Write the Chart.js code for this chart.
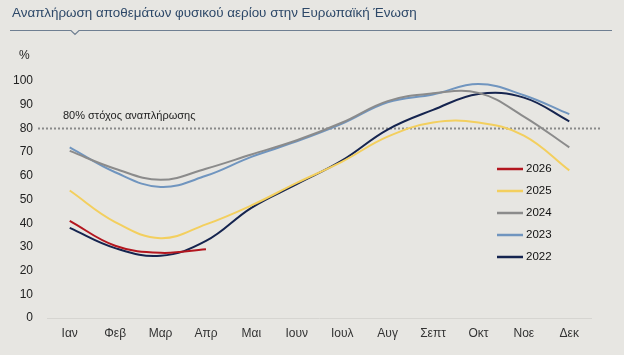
<!DOCTYPE html>
<html><head><meta charset="utf-8">
<script src="https://cdn.jsdelivr.net/npm/chart.js@4"></script>
<style>
html,body{margin:0;padding:0;background:#e7e6e2;}
#wrap{position:relative;width:624px;height:355px;}
</style></head>
<body><div id="wrap"><canvas id="c" width="624" height="355"></canvas></div>
<script>
const months = ['Ιαν','Φεβ','Μαρ','Απρ','Μαι','Ιουν','Ιουλ','Αυγ','Σεπτ','Οκτ','Νοε','Δεκ'];
const yearLabels = ['2026','2025','2024','2023','2022'];
const s2026 = [41, 30.5, 27.5, 29];
const s2025 = [53.8, 40.5, 33.7, 39.5, 47.5, 57, 66, 76.5, 82.5, 82.5, 77, 62.3];
const s2024 = [70.5, 63, 58.3, 63, 69, 75, 82.5, 91.5, 94.8, 95, 85, 72];
const s2023 = [72, 61.5, 55.3, 60, 68, 74.5, 82, 91, 94.3, 98.7, 94, 86];
const s2022 = [38, 29.5, 26.3, 32.5, 46.5, 56.5, 66.5, 79.5, 87.8, 94.5, 93, 83];
const colors = ['#b3161f','#f3cf5e','#8b8b8b','#7095bf','#15244f'];
const targetValue = 80;
const targetLabel = '80% στόχος αναπλήρωσης';
const titleText = 'Αναπλήρωση αποθεμάτων φυσικού αερίου στην Ευρωπαϊκή Ένωση';
const yTicks = [0,10,20,30,40,50,60,70,80,90,100];

const series = [s2026, s2025, s2024, s2023, s2022];
const FONT = '"Liberation Sans", Arial, sans-serif';

const deco = {
  id: 'deco',
  beforeDatasetsDraw(chart) {
    const ctx = chart.ctx, y = chart.scales.y;
    const py = Math.round(y.getPixelForValue(targetValue)) + 0.5;
    ctx.save();
    ctx.strokeStyle = '#8a8a8a';
    ctx.lineWidth = 2;
    ctx.setLineDash([2, 2]);
    ctx.beginPath(); ctx.moveTo(38, py); ctx.lineTo(601, py); ctx.stroke();
    ctx.setLineDash([]);
    ctx.fillStyle = '#222';
    ctx.font = '11px ' + FONT;
    ctx.textBaseline = 'middle';
    ctx.fillText(targetLabel, 63, py - 13);
    ctx.restore();
  },
  afterDraw(chart) {
    const ctx = chart.ctx;
    ctx.save();
    ctx.fillStyle = '#2d4868';
    ctx.font = '13.4px ' + FONT;
    ctx.textBaseline = 'middle';
    ctx.fillText(titleText, 12, 13);
    ctx.strokeStyle = '#6f7f92';
    ctx.lineWidth = 1.2;
    ctx.beginPath();
    ctx.moveTo(10, 30.5); ctx.lineTo(71, 30.5); ctx.lineTo(75, 34.5); ctx.lineTo(79, 30.5); ctx.lineTo(612, 30.5);
    ctx.stroke();
    ctx.fillStyle = '#222';
    ctx.font = '12px ' + FONT;
    ctx.fillText('%', 19, 56);
    chart.data.datasets.forEach((ds, i) => {
      const ly = 169 + i * 22;
      ctx.strokeStyle = ds.borderColor;
      ctx.lineWidth = 2.5;
      ctx.beginPath(); ctx.moveTo(497, ly); ctx.lineTo(523, ly); ctx.stroke();
      ctx.fillStyle = '#111';
      ctx.font = '11.5px ' + FONT;
      ctx.fillText(ds.label, 526, ly);
    });
    ctx.restore();
  }
};

new Chart(document.getElementById('c'), {
  type: 'line',
  data: {
    labels: months,
    datasets: series.map((d, i) => ({
      label: yearLabels[i],
      data: d,
      borderColor: colors[i],
      backgroundColor: colors[i],
      borderWidth: 2,
      pointRadius: 0,
      tension: 0.4,
      fill: false,
      clip: false
    }))
  },
  options: {
    responsive: false,
    animation: false,
    layout: { padding: { top: 81, right: 32, left: 0, bottom: 0 } },
    plugins: { legend: { display: false }, tooltip: { enabled: false } },
    scales: {
      x: {
        offset: true,
        grid: { display: false, drawTicks: false },
        border: { display: false },
        ticks: { color: '#333', font: { family: FONT, size: 12 }, padding: 8, maxRotation: 0 },
        afterFit(s) { s.height = 37; }
      },
      y: {
        min: 0, max: 100,
        afterBuildTicks(s) { s.ticks = yTicks.map(v => ({ value: v })); },
        grid: { drawTicks: false, color: c => c.tick && c.tick.value === 0 ? '#d6d5d1' : 'rgba(0,0,0,0)', lineWidth: 1 },
        border: { display: false },
        ticks: { color: '#222', font: { family: FONT, size: 12 }, padding: 14 },
        afterFit(s) { s.width = 47; }
      }
    }
  },
  plugins: [deco]
});
</script></body></html>
